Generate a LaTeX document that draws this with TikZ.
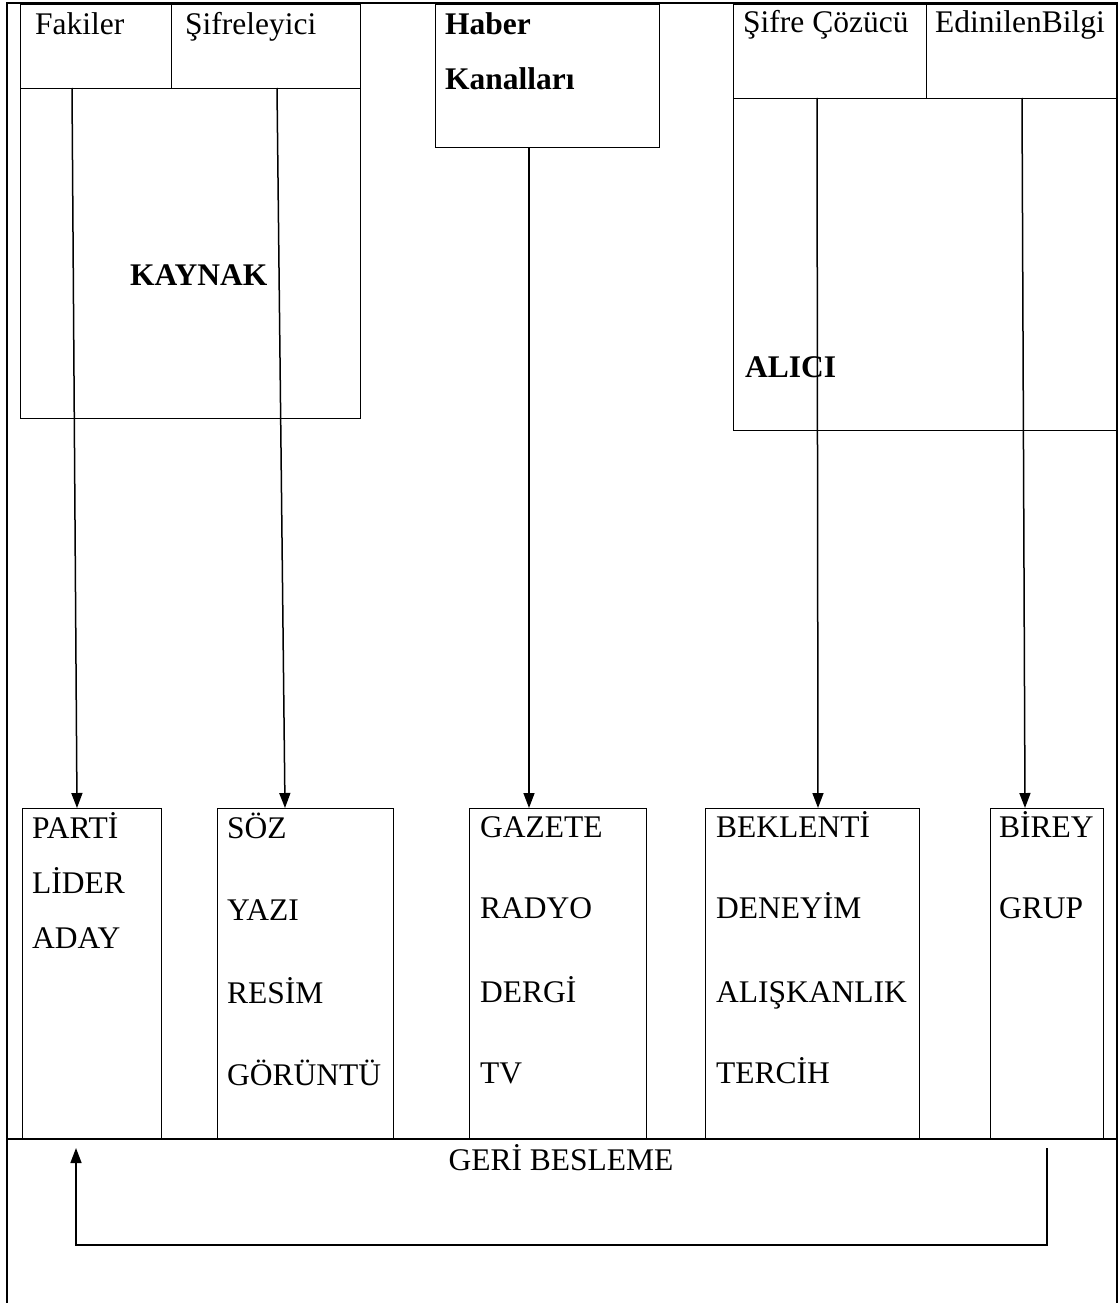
\documentclass[tikz,border=0pt]{standalone}
\usepackage{fontspec}
\setmainfont{Liberation Serif}
\usetikzlibrary{arrows.meta}
\begin{document}
\begin{tikzpicture}[x=1pt,y=-1pt,
  box/.style={draw, line width=1.1pt, inner sep=0pt, anchor=north west},
  lbl/.style={anchor=base west, inner sep=0pt, font=\fontsize{31.5}{36}\selectfont},
  blbl/.style={anchor=base west, inner sep=0pt, font=\fontsize{31.5}{36}\selectfont\bfseries},
  frameline/.style={line width=1.1pt},
  arr/.style={line width=1.5pt, -{Triangle[length=15pt,width=11pt]}}]
\useasboundingbox (0,0) rectangle (1118,1303);

% outer frame
\draw[frameline] (7,1303) -- (7,3) -- (1117,3) -- (1117,1303);
\draw[frameline] (7,1139) -- (1117,1139);

% top boxes
\node[box, minimum width=151pt, minimum height=84pt] (fak) at (20,4) {};
\node[box, minimum width=189pt, minimum height=84pt] (sif) at (171,4) {};
\node[box, minimum width=340pt, minimum height=330pt] (kay) at (20,88) {};
\node[box, minimum width=224pt, minimum height=143pt] (hab) at (435,4) {};
\node[box, minimum width=193pt, minimum height=94pt] (coz) at (733,4) {};
\node[box, minimum width=191pt, minimum height=94pt] (edi) at (926,4) {};
\node[box, minimum width=384pt, minimum height=332pt] (ali) at (733,98) {};

% bottom boxes
\node[box, minimum width=139pt, minimum height=331pt] (parti) at (22,808) {};
\node[box, minimum width=176pt, minimum height=331pt] (soz) at (217,808) {};
\node[box, minimum width=177pt, minimum height=331pt] (gaz) at (469,808) {};
\node[box, minimum width=214pt, minimum height=331pt] (bek) at (705,808) {};
\node[box, minimum width=113pt, minimum height=331pt] (bir) at (990,808) {};

% top texts
\node[lbl] (tfak) at (35,35) {Fakiler};
\node[lbl] (tsif) at (185,35) {Şifreleyici};
\node[blbl] (thab1) at (445,35) {Haber};
\node[blbl] (thab2) at (445,90) {Kanalları};
\node[lbl] (tcoz) at (743,33) {Şifre Çözücü};
\node[lbl] (tedi) at (935,33) {EdinilenBilgi};
\node[blbl] (tkay) at (130,285) {KAYNAK};
\node[blbl] (tali) at (745,377) {ALICI};

% bottom texts
\node[lbl] (p1) at (32,838) {PARTİ};
\node[lbl] (p2) at (32,893) {LİDER};
\node[lbl] (p3) at (32,948) {ADAY};
\node[lbl] (s1) at (227,838) {SÖZ};
\node[lbl] (s2) at (227,920) {YAZI};
\node[lbl] (s3) at (227,1003) {RESİM};
\node[lbl] (s4) at (227,1085) {GÖRÜNTÜ};
\node[lbl] (g1) at (480,837) {GAZETE};
\node[lbl] (g2) at (480,918) {RADYO};
\node[lbl] (g3) at (480,1002) {DERGİ};
\node[lbl] (g4) at (480,1083) {TV};
\node[lbl] (b1) at (716,837) {BEKLENTİ};
\node[lbl] (b2) at (716,918) {DENEYİM};
\node[lbl] (b3) at (716,1002) {ALIŞKANLIK};
\node[lbl] (b4) at (716,1083) {TERCİH};
\node[lbl] (r1) at (999,837) {BİREY};
\node[lbl] (r2) at (999,918) {GRUP};
\node[lbl, anchor=base] (geri) at (561,1170) {GERİ BESLEME};

% connector end points
\coordinate (a1s) at (72,88);   \coordinate (a1e) at (77,808);
\coordinate (a2s) at (277,88);  \coordinate (a2e) at (285,808);
\coordinate (a3s) at (529,147); \coordinate (a3e) at (529,808);
\coordinate (a4s) at (817,98);  \coordinate (a4e) at (818,808);
\coordinate (a5s) at (1022,98); \coordinate (a5e) at (1025,808);
\coordinate (fs) at (1047,1148);
\coordinate (fb) at (1047,1245);
\coordinate (fe) at (76,1148);

\draw[arr] (a1s) -- (a1e);
\draw[arr] (a2s) -- (a2e);
\draw[arr] (a3s) -- (a3e);
\draw[arr] (a4s) -- (a4e);
\draw[arr] (a5s) -- (a5e);
\draw[arr] (fs) -- (fb) -| (fe);
\end{tikzpicture}
\end{document}
